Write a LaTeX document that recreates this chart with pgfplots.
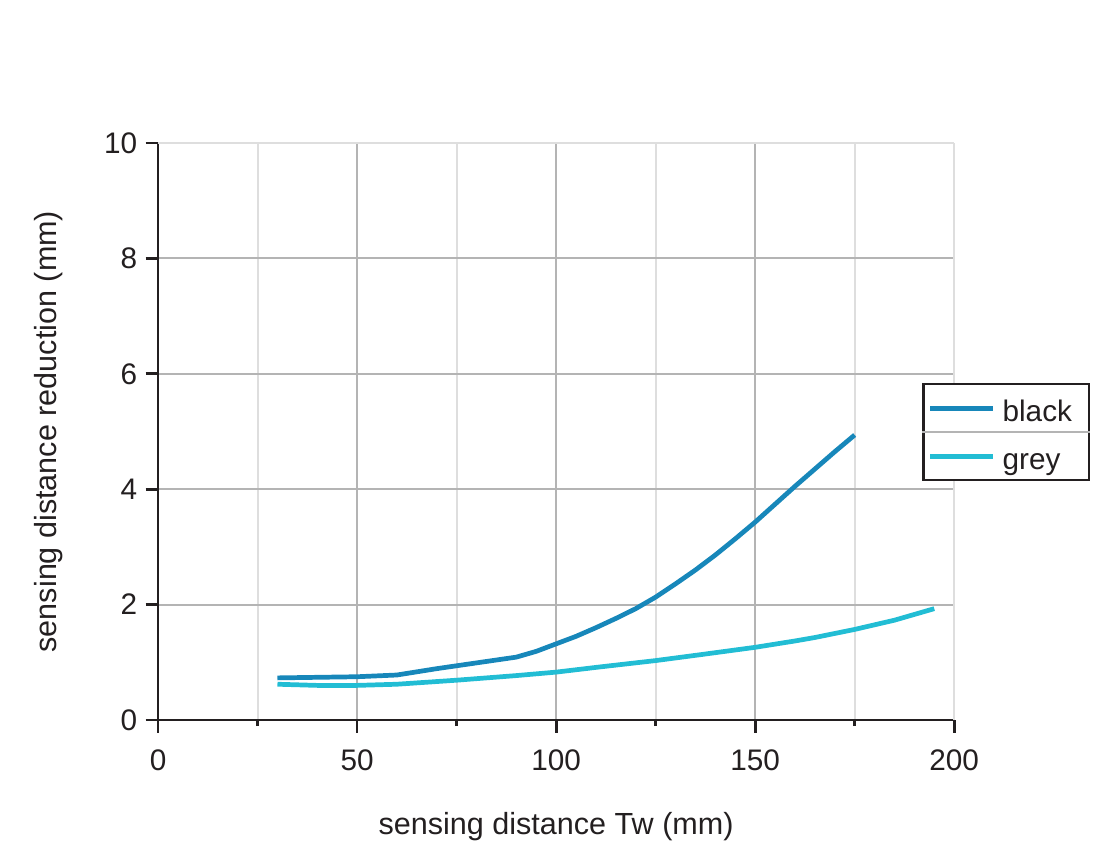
\documentclass[border=0pt]{standalone}
\usepackage{fontspec}
\setmainfont{Liberation Sans}
\usepackage{pgfplots}
\pgfplotsset{compat=1.18}
\definecolor{cblack}{HTML}{1787BA}
\definecolor{cgrey}{HTML}{22BDD4}
\definecolor{axcol}{HTML}{231F20}
\definecolor{majgrid}{HTML}{B4B4B4}
\definecolor{mingrid}{HTML}{DEDEDE}
\begin{document}
\begin{tikzpicture}
\useasboundingbox (-56.9pt,-51.8pt) rectangle (346.3pt,259.2pt);
\begin{axis}[
  at={(0,0)}, anchor=south west,
  scale only axis, width=286.6pt, height=207.7pt,
  xmin=0, xmax=200, ymin=0, ymax=10,
  axis x line*=bottom, axis y line*=left,
  axis line style={axcol, line width=1pt, -},
  xtick={0,50,100,150}, minor xtick={25,75,125,175},
  extra x ticks={200},
  extra x tick style={xmajorgrids=true, major grid style={mingrid, line width=0.7pt}},
  ytick={0,2,4,6,8},
  extra y ticks={10},
  extra y tick style={ymajorgrids=true, major grid style={mingrid, line width=0.7pt}},
  xmajorgrids=true, xminorgrids=true, ymajorgrids=true,
  major grid style={majgrid, line width=0.7pt},
  minor grid style={mingrid, line width=0.7pt},
  tick align=outside,
  major tick length=4.5pt, minor tick length=2.2pt,
  tick style={axcol, line width=1pt},
  /pgf/number format/assume math mode=true,
  ticklabel style={font=\fontsize{10.7}{12}\selectfont, text=axcol},
  xticklabel style={yshift=-2.5pt},
  yticklabel style={xshift=0.5pt},
  label style={font=\fontsize{11}{13}\selectfont, text=axcol},
  xlabel={sensing distance Tw (mm)},
  ylabel={sensing distance reduction (mm)},
  xlabel style={at={(axis description cs:0.5,-0.185)}, anchor=center},
  ylabel style={at={(axis description cs:-0.138,0.5)}, anchor=center},
  legend style={name=leg, at={(0.96,0.584)}, anchor=north west,
    draw=axcol, line width=0.8pt, inner xsep=1.5pt, inner ysep=0pt, row sep=0pt,
    font=\fontsize{10.7}{12}\selectfont, text=axcol,
    nodes={inner sep=0pt, text depth=},
    /tikz/every odd column/.append style={column sep=2.5pt}},
  legend cell align=left,
  legend image code/.code={\draw[#1, line width=1.8pt] (0pt,0pt) -- (22.7pt,0pt);},
]
\addplot[cblack, line width=1.7pt] coordinates {
(30,0.73) (40,0.74) (50,0.75) (60,0.78) (70,0.89) (80,0.99) (90,1.09)
(95,1.19) (100,1.32) (105,1.45) (110,1.6) (115,1.76) (120,1.93) (125,2.13)
(130,2.36) (135,2.6) (140,2.86) (145,3.14) (150,3.43) (155,3.74) (160,4.05)
(165,4.35) (170,4.65) (175,4.94)};
\addlegendentry{\makebox[29.6pt][l]{\rule[-4pt]{0pt}{17.3pt}black}}
\addplot[cgrey, line width=1.7pt] coordinates {
(30,0.62) (40,0.6) (50,0.6) (60,0.62) (75,0.69) (90,0.77) (100,0.83)
(111,0.92) (125,1.03) (136,1.13) (150,1.26) (160,1.37) (165,1.43) (175,1.57)
(185,1.73) (195,1.93)};
\addlegendentry{\makebox[29.6pt][l]{\rule[-4pt]{0pt}{17.3pt}grey}}
\end{axis}
\draw[majgrid, line width=0.7pt] (leg.west) -- (leg.east);
\end{tikzpicture}
\end{document}
